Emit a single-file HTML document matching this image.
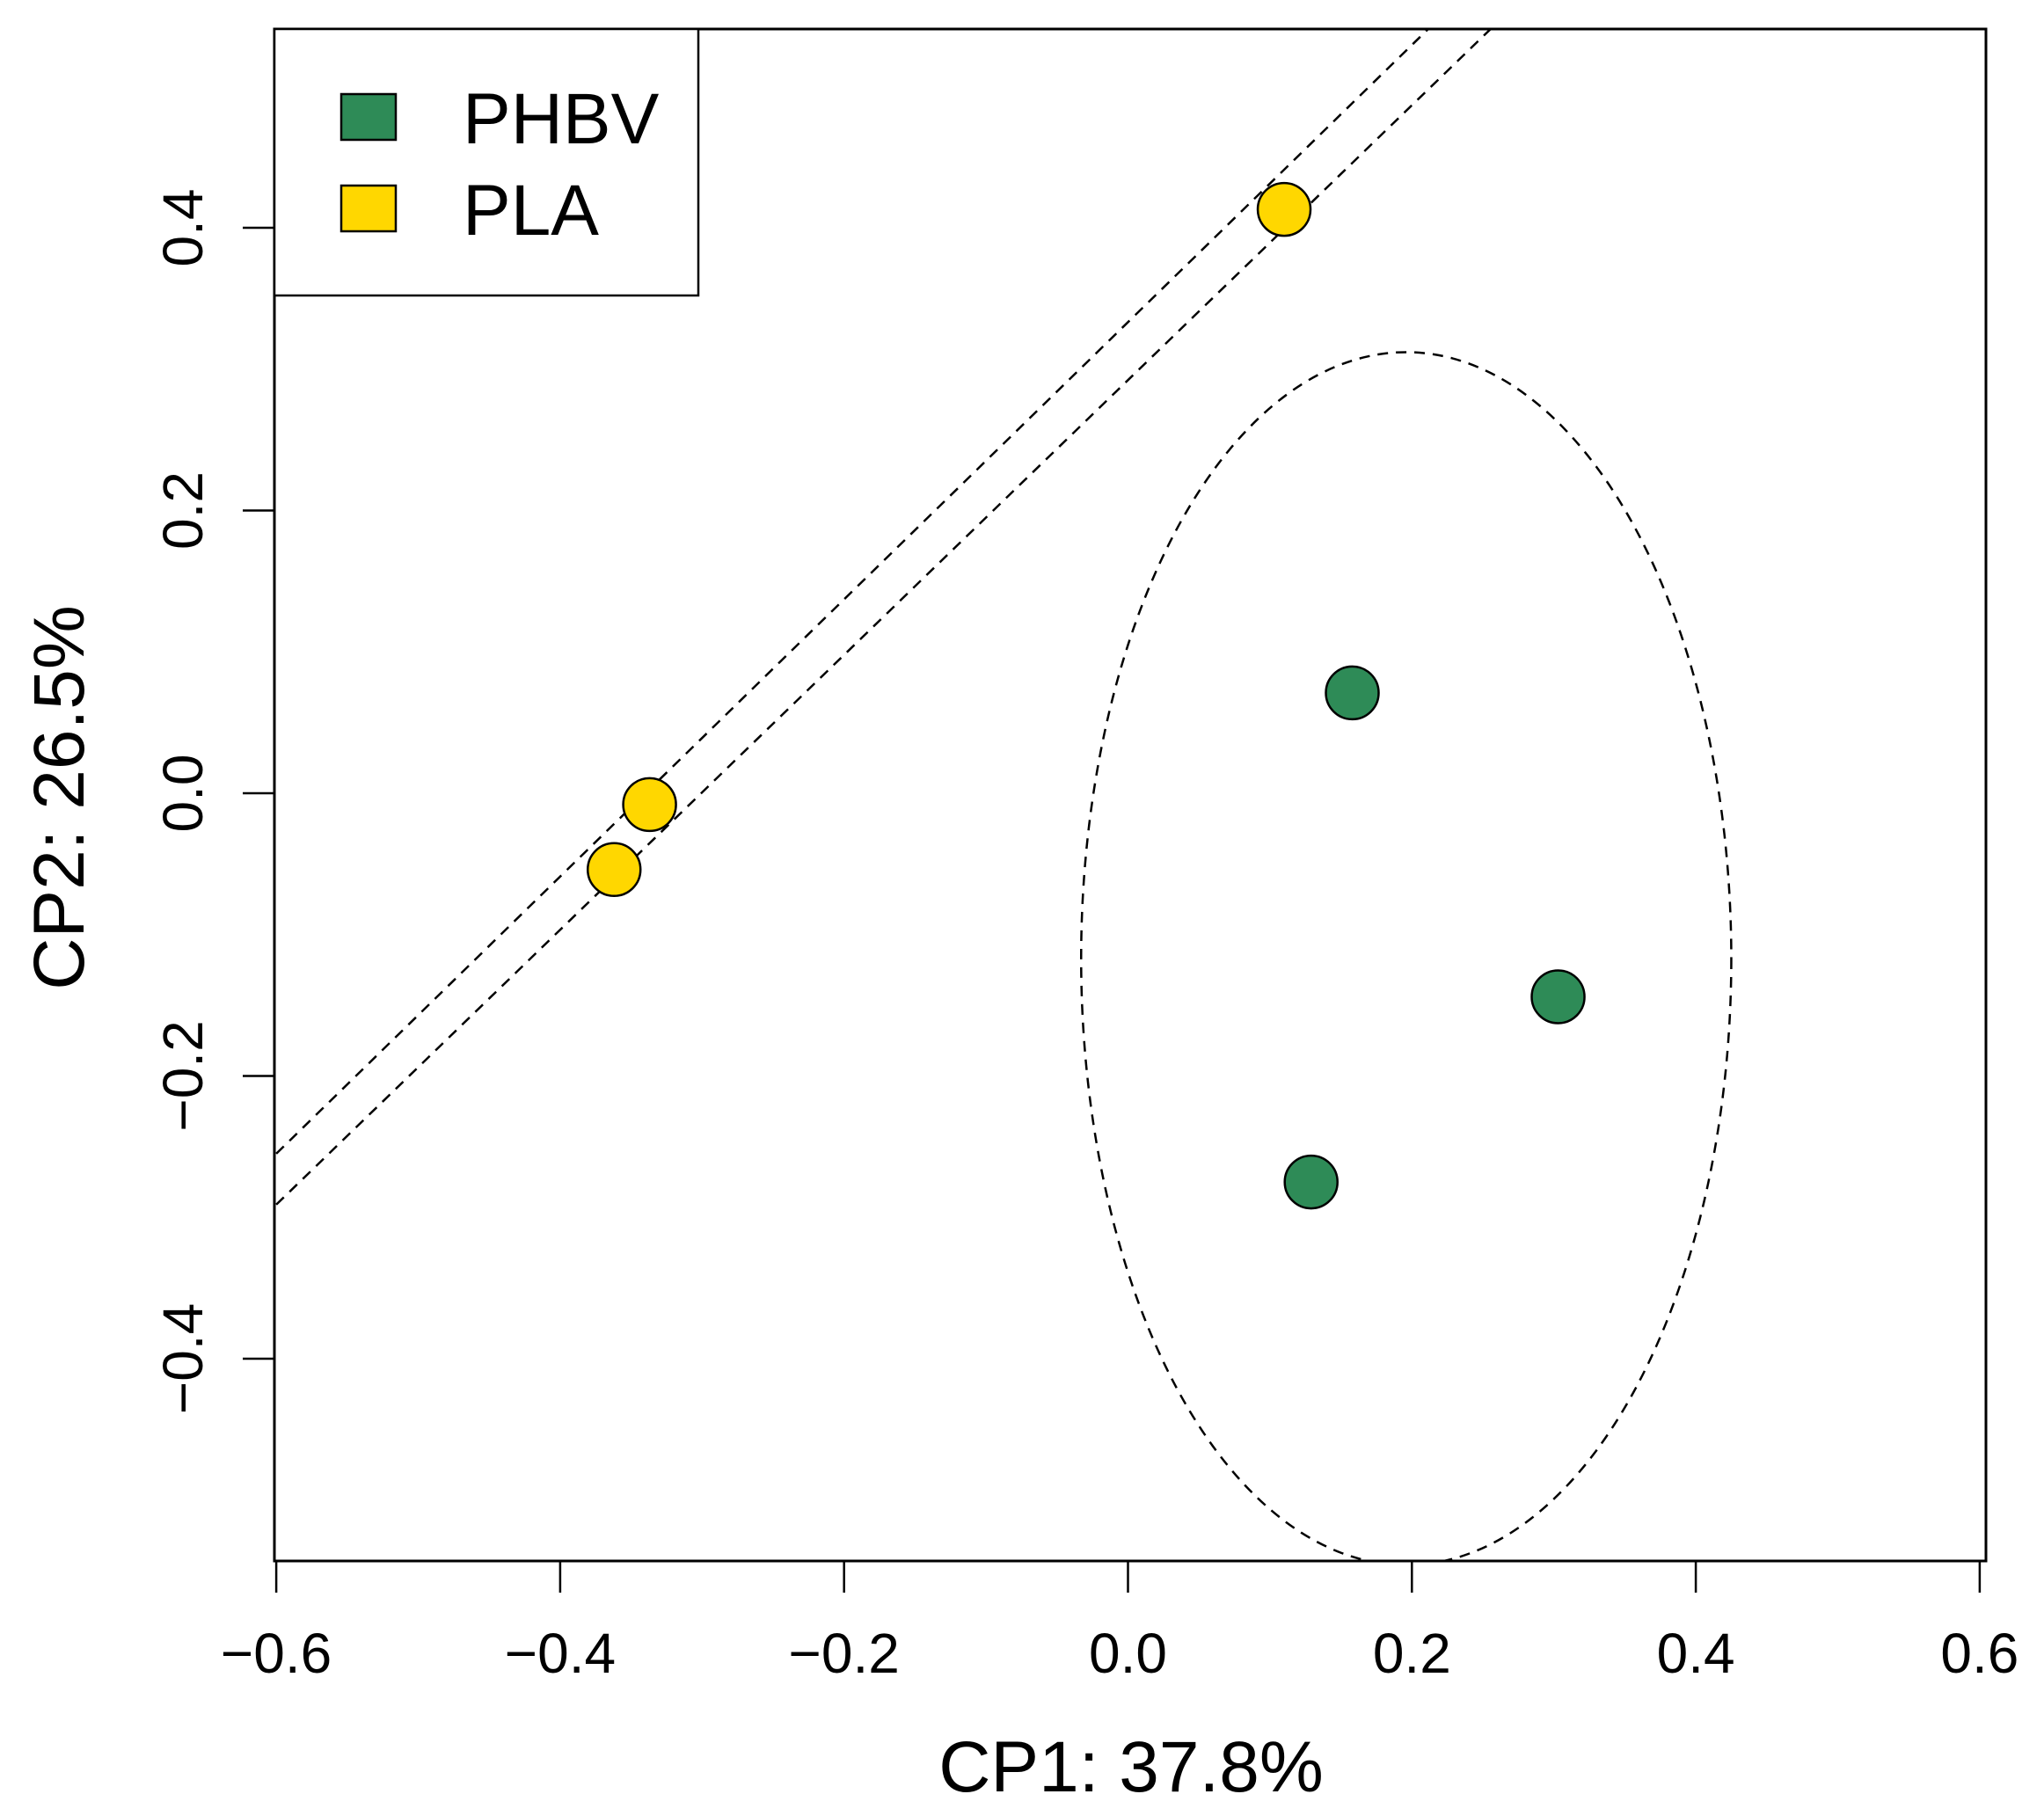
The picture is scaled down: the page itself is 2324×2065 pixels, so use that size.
<!DOCTYPE html>
<html><head><meta charset="utf-8">
<style>
html,body{margin:0;padding:0;background:#fff;}
svg{display:block;font-family:"Liberation Sans",Arial,sans-serif;}
</style></head>
<body>
<svg id="chart" width="2324" height="2065" viewBox="0 0 2324 2065">
<defs><clipPath id="plotclip"><rect x="312" y="33" width="1946" height="1742"/></clipPath></defs>
</svg>
<script>
const xTicks = [-0.6,-0.4,-0.2,0.0,0.2,0.4,0.6];
const yTicks = [-0.4,-0.2,0.0,0.2,0.4];
const xTickLabels = ["\u22120.6","\u22120.4","\u22120.2","0.0","0.2","0.4","0.6"];
const yTickLabels = ["\u22120.4","\u22120.2","0.0","0.2","0.4"];
const plaX = [0.110,-0.337,-0.362];
const plaY = [0.413,-0.008,-0.054];
const phbvX = [0.158,0.303,0.129];
const phbvY = [0.071,-0.144,-0.275];
const phbvEllipse = [0.196,-0.117,0.229,0.429]; // cx, cy, rx, ry
const plaLine1 = [-0.6,-0.255,0.216,0.545];
const plaLine2 = [-0.6,-0.291,0.260,0.545];

const X0=1282.5, XS=1614, Y0=902, YS=1607.5;
const sx = v => X0 + v*XS;
const sy = v => Y0 - v*YS;
const NS="http://www.w3.org/2000/svg";
const svg=document.getElementById('chart');
function mk(tag, attrs, parent){const e=document.createElementNS(NS,tag);for(const k in attrs)e.setAttribute(k,attrs[k]);(parent||svg).appendChild(e);return e;}

const plot=mk('g',{'clip-path':'url(#plotclip)'});



const ell=mk('ellipse',{cx:sx(phbvEllipse[0]),cy:sy(phbvEllipse[1]),rx:phbvEllipse[2]*XS,ry:phbvEllipse[3]*YS,fill:'none',stroke:'#000','stroke-width':2.5,'stroke-dasharray':'12 9'},plot);


[plaLine1,plaLine2].forEach((l,i)=>{
  const ln=mk('line',{x1:sx(l[0]),y1:sy(l[1]),x2:sx(l[2]),y2:sy(l[3]),stroke:'#000','stroke-width':2.5,'stroke-dasharray':'12 9'},plot);
  
  
});
plaX.forEach((x,i)=>{
  const c=mk('circle',{cx:sx(x),cy:sy(plaY[i]),r:30,fill:'#FFD700',stroke:'#000','stroke-width':2.5},plot);
  
  
});
phbvX.forEach((x,i)=>{
  const c=mk('circle',{cx:sx(x),cy:sy(phbvY[i]),r:30,fill:'#2E8B57',stroke:'#000','stroke-width':2.5},plot);
  
  
});

const box=mk('rect',{x:312,y:33,width:1946,height:1742,fill:'none',stroke:'#000','stroke-width':3});



xTicks.forEach((t,i)=>{
  const tk=mk('line',{x1:sx(t),y1:1775,x2:sx(t),y2:1811,stroke:'#000','stroke-width':2.5});
  
  
  const tx=mk('text',{x:sx(t),y:1902,'font-size':64,'text-anchor':'middle'});
  tx.textContent=xTickLabels[i];
  
  
});
yTicks.forEach((t,i)=>{
  const tk=mk('line',{x1:276,y1:sy(t),x2:312,y2:sy(t),stroke:'#000','stroke-width':2.5});
  
  
  const tx=mk('text',{x:0,y:0,'font-size':64,'text-anchor':'middle',transform:`translate(230,${sy(t)}) rotate(-90)`});
  tx.textContent=yTickLabels[i];
  
  
});
const xt=mk('text',{x:1286,y:2037,'font-size':82,'text-anchor':'middle'});
xt.textContent='CP1: 37.8%';


const yt=mk('text',{x:0,y:0,'font-size':82,'text-anchor':'middle',transform:'translate(95,907) rotate(-90)'});
yt.textContent='CP2: 26.5%';



const lg=mk('g',{});


mk('rect',{x:312,y:33,width:482,height:303,fill:'#fff',stroke:'#000','stroke-width':2.5},lg);
const entries=[['PHBV','#2E8B57',107],['PLA','#FFD700',211]];
entries.forEach(e=>{
  const s=mk('rect',{x:388,y:e[2],width:62,height:52,fill:e[1],stroke:'#000','stroke-width':2.5},lg);
  
  
  const t=mk('text',{x:526,y:e[2]+56,'font-size':82},lg);
  t.textContent=e[0];
  
  
});
</script>
</body></html>
